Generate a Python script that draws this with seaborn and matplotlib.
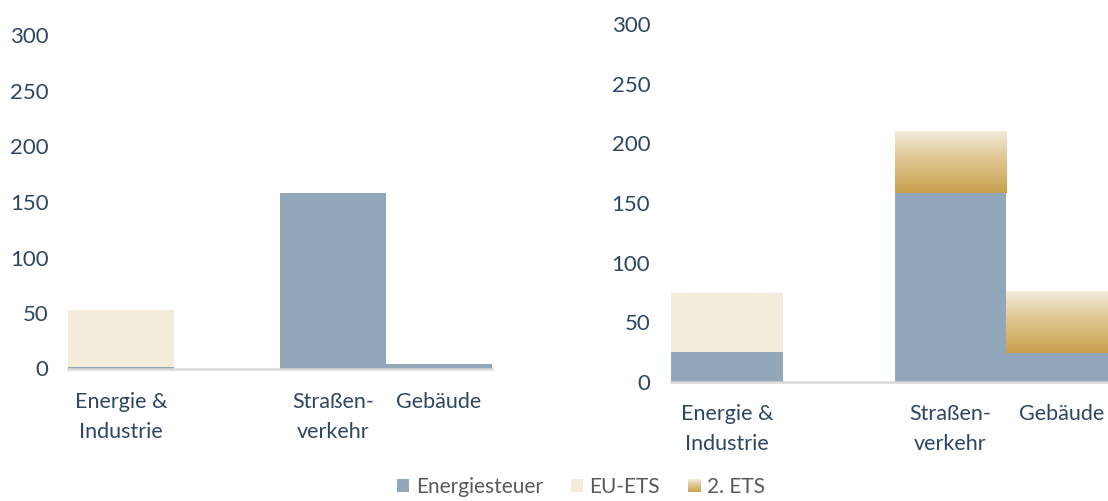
import numpy as np
import pandas as pd
import seaborn as sns
import matplotlib.pyplot as plt
from matplotlib.patches import Patch, Rectangle
from matplotlib.legend_handler import HandlerBase
from matplotlib.colors import LinearSegmentedColormap

# ---------------- data ----------------
categories = ["Energie &\nIndustrie", " ", "Straßen-\nverkehr", "Gebäude"]
series_names = ["Energiesteuer", "EU-ETS", "2. ETS"]

left_energiesteuer = [1.5, 0, 158.5, 4.5]
left_eu_ets = [51, 0, 0, 0]
left_ets2 = [0, 0, 0, 0]

right_energiesteuer = [25, 0, 158.5, 24]
right_eu_ets = [50, 0, 0, 0]
right_ets2 = [0, 0, 51.5, 51.5]

y_ticks = [0, 50, 100, 150, 200, 250, 300]

# ---------------- style ----------------
sns.set_theme(style="white")
plt.rcParams["font.family"] = ["Lato", "DejaVu Sans"]

BLUE = "#93A7BA"
EU = "#F3ECDA"
GOLD = "#C9A24E"
TXT = "#2E4563"
LEG_TXT = "#595959"
AXIS = "#D9D9D9"
grad_cmap = LinearSegmentedColormap.from_list("ets2", ["#C8A14E", "#DDC28A", "#F3EBD8"])

FS_X = 15.5
FS_Y = 16
FS_LEG = 15

fig = plt.figure(figsize=(11.08, 5.01), dpi=100)
ax_l = fig.add_axes([68 / 1108, (501 - 368.5) / 501, 424 / 1108, 333 / 501])
ax_r = fig.add_axes([671 / 1108, (501 - 382) / 501, 447 / 1108, 358 / 501])


def draw_panel(ax, e, eu, e2, ypad, xpad):
    e = np.array(e, float)
    eu = np.array(eu, float)
    e2 = np.array(e2, float)
    tot = e + eu + e2
    mid = e + eu
    # top layer (2. ETS) drawn as bars, then filled with gradient
    sns.barplot(x=categories, y=tot, order=categories, color=GOLD, width=1.0,
                saturation=1, errorbar=None, linewidth=0, ax=ax)
    top_patches = list(ax.patches)
    for i, p in enumerate(top_patches):
        p.set_visible(False)
        if e2[i] > 0:
            x0 = p.get_x()
            w = p.get_width()
            grad = np.linspace(0, 1, 256).reshape(-1, 1)
            ax.imshow(grad, cmap=grad_cmap, origin="lower", aspect="auto",
                      extent=(x0, x0 + w, mid[i], tot[i]), zorder=0.9,
                      interpolation="bilinear")
    sns.barplot(x=categories, y=mid, order=categories, color=EU, width=1.0,
                saturation=1, errorbar=None, linewidth=0, ax=ax)
    sns.barplot(x=categories, y=e, order=categories, color=BLUE, width=1.0,
                saturation=1, errorbar=None, linewidth=0, ax=ax)

    ax.set_xlim(-0.5, len(categories) - 0.5)
    ax.set_ylim(0, 300)
    ax.set_yticks(y_ticks)
    ax.set_yticklabels([str(t) for t in y_ticks])
    ax.set_xlabel("")
    ax.set_ylabel("")
    for s in ["top", "right", "left"]:
        ax.spines[s].set_visible(False)
    ax.spines["bottom"].set_color(AXIS)
    ax.spines["bottom"].set_linewidth(1.8)
    ax.spines["bottom"].set_zorder(5)
    ax.tick_params(axis="y", length=0, pad=ypad, labelsize=FS_Y, labelcolor=TXT)
    ax.tick_params(axis="x", length=0, pad=xpad, labelsize=FS_X, labelcolor=TXT)
    for lbl in ax.get_xticklabels():
        lbl.set_linespacing(1.6)
    ax.grid(False)
    ax.set_facecolor("none")


draw_panel(ax_l, left_energiesteuer, left_eu_ets, left_ets2, ypad=14, xpad=17)
draw_panel(ax_r, right_energiesteuer, right_eu_ets, right_ets2, ypad=15, xpad=16)


class HandlerGradient(HandlerBase):
    def create_artists(self, legend, orig_handle, xdescent, ydescent, width,
                       height, fontsize, trans):
        n = 20
        arts = []
        for k in range(n):
            r = Rectangle((-xdescent, -ydescent + height * k / n), width,
                          height / n + 0.05, facecolor=grad_cmap(k / (n - 1)),
                          edgecolor="none", transform=trans)
            arts.append(r)
        return arts


h_blue = Patch(facecolor=BLUE, edgecolor="none")
h_eu = Patch(facecolor=EU, edgecolor="none")
h_ets2 = Patch(facecolor=GOLD, edgecolor="none")
leg = fig.legend([h_blue, h_eu, h_ets2], series_names, loc="center",
                 bbox_to_anchor=(581 / 1108, 14 / 501), ncol=3, frameon=False,
                 fontsize=FS_LEG, handlelength=0.6, handleheight=0.6,
                 handletextpad=0.3, columnspacing=1.35, borderpad=0.05,
                 handler_map={h_ets2: HandlerGradient()})
for t in leg.get_texts():
    t.set_color(LEG_TXT)

fig.savefig("out.png", dpi=100)
